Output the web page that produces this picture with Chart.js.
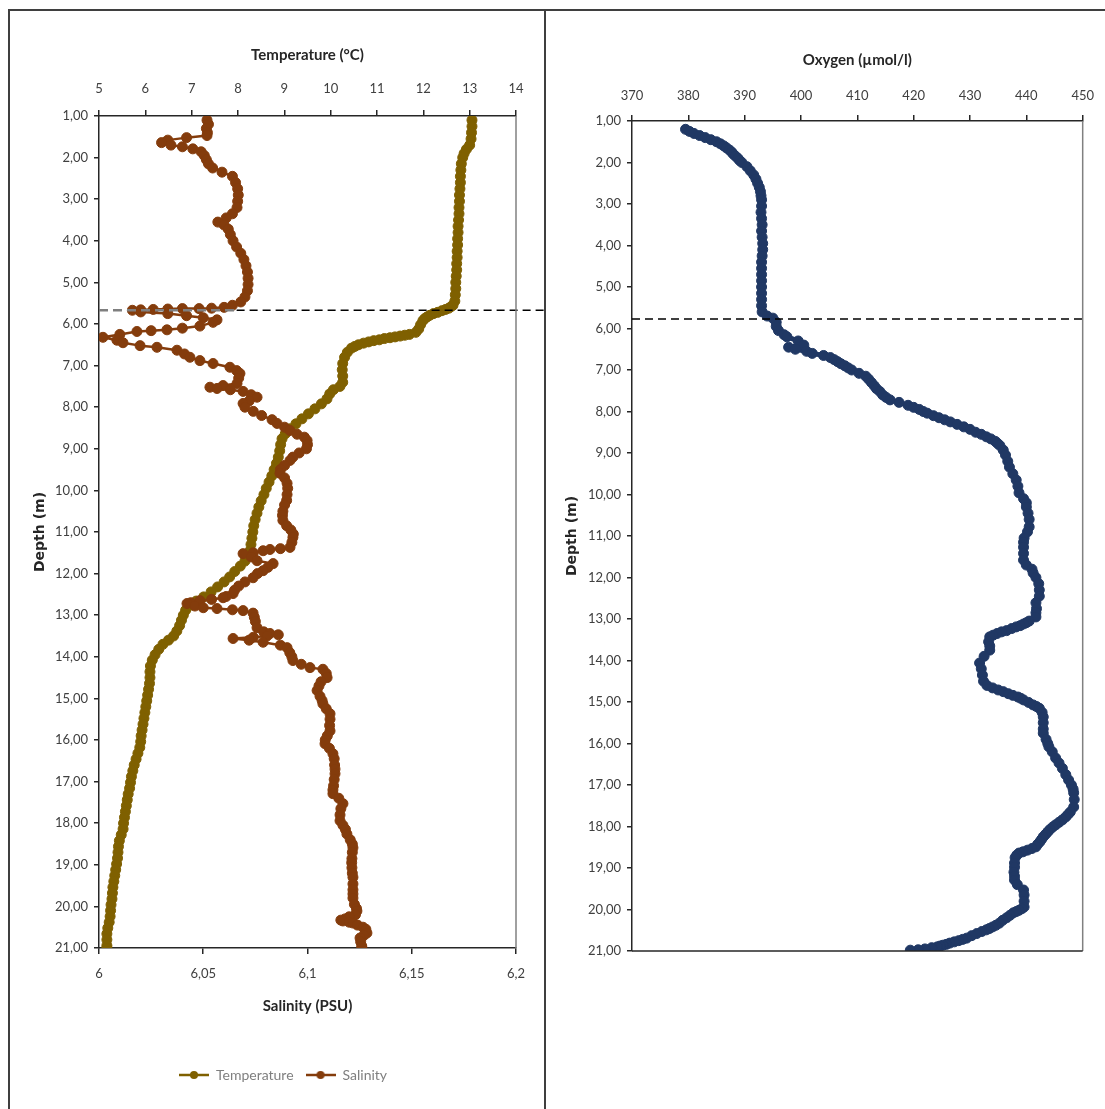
<!DOCTYPE html>
<html>
<head>
<meta charset="utf-8">
<script src="https://cdn.jsdelivr.net/npm/chart.js@4.4.1/dist/chart.umd.min.js"></script>
<style>
  body { margin: 0; background: #fff; width: 1105px; height: 1109px; position: relative; overflow: hidden; }
  #frame { position: absolute; left: 8px; top: 9px; width: 1097px; height: 1100px; border-top: 2px solid #3f3f3f; border-left: 2px solid #3f3f3f; box-sizing: border-box; }
  #divider { position: absolute; left: 544px; top: 9px; width: 2px; height: 1100px; background: #3f3f3f; }
  .panel { position: absolute; top: 11px; height: 1098px; }
  #left { left: 10px; width: 534px; }
  #right { left: 547px; width: 558px; }
</style>
</head>
<body>
<div id="frame"></div>
<div id="divider"></div>
<div class="panel" id="left"><canvas id="tsChart"></canvas></div>
<div class="panel" id="right"><canvas id="oxChart"></canvas></div>
<script>
// --- Données : [profondeur (m), valeur] ---

const temperature = [
  [1.10,13.05],[1.25,13.05],[1.40,13.04],[1.55,13.03],[1.70,13.00],[1.80,12.93],[1.90,12.88],[2.00,12.85],
  [2.15,12.82],[2.30,12.81],[2.45,12.80],[2.60,12.80],[2.75,12.79],[2.90,12.78],[3.05,12.78],[3.20,12.77],
  [3.35,12.77],[3.50,12.76],[3.65,12.75],[3.80,12.75],[3.95,12.74],[4.10,12.74],[4.25,12.73],[4.40,12.73],
  [4.55,12.72],[4.70,12.72],[4.85,12.71],[5.00,12.70],[5.15,12.70],[5.30,12.69],[5.45,12.68],[5.55,12.64],
  [5.58,12.60],[5.62,12.55],[5.65,12.48],[5.68,12.40],[5.72,12.31],[5.75,12.22],[5.79,12.14],[5.83,12.08],
  [5.87,12.03],[5.92,11.99],[6.02,11.94],[6.12,11.90],[6.20,11.84],[6.25,11.70],[6.27,11.60],[6.29,11.50],
  [6.31,11.39],[6.33,11.28],[6.35,11.16],[6.38,11.05],[6.40,10.93],[6.43,10.82],[6.46,10.71],[6.50,10.60],
  [6.54,10.52],[6.58,10.45],[6.68,10.36],[6.80,10.30],[6.95,10.26],[7.10,10.25],[7.25,10.26],[7.40,10.26],
  [7.50,10.20],[7.58,10.06],[7.68,9.98],[7.80,9.92],[7.92,9.80],[8.04,9.66],[8.16,9.52],[8.28,9.38],
  [8.40,9.25],[8.52,9.12],[8.64,9.02],[8.76,8.95],[8.90,8.92],[9.05,8.90],[9.20,8.87],[9.35,8.83],
  [9.50,8.78],[9.65,8.73],[9.80,8.67],[9.95,8.61],[10.10,8.56],[10.25,8.50],[10.40,8.45],[10.55,8.41],
  [10.70,8.37],[10.85,8.34],[11.00,8.32],[11.15,8.30],[11.30,8.28],[11.45,8.26],[11.58,8.22],[11.70,8.15],
  [11.82,8.05],[11.95,7.93],[12.08,7.82],[12.20,7.70],[12.32,7.56],[12.44,7.42],[12.56,7.26],[12.66,7.10],
  [12.76,6.97],[12.88,6.87],[13.00,6.82],[13.12,6.78],[13.25,6.74],[13.38,6.68],[13.50,6.61],[13.60,6.50],
  [13.70,6.38],[13.82,6.29],[13.95,6.21],[14.08,6.15],[14.22,6.11],[14.36,6.10],[14.50,6.10],[14.64,6.09],
  [14.78,6.07],[14.92,6.05],[15.06,6.03],[15.20,6.01],[15.34,5.99],[15.48,5.97],[15.62,5.95],[15.76,5.93],
  [15.90,5.91],[16.04,5.90],[16.18,5.88],[16.32,5.84],[16.46,5.80],[16.60,5.76],[16.74,5.73],[16.88,5.70],
  [17.02,5.68],[17.16,5.66],[17.30,5.63],[17.44,5.61],[17.58,5.59],[17.72,5.57],[17.86,5.55],[18.00,5.53],
  [18.14,5.52],[18.28,5.48],[18.42,5.44],[18.56,5.42],[18.70,5.41],[18.84,5.40],[18.98,5.38],[19.12,5.36],
  [19.26,5.34],[19.40,5.32],[19.54,5.30],[19.68,5.29],[19.82,5.28],[19.96,5.26],[20.10,5.25],[20.24,5.24],
  [20.38,5.22],[20.52,5.19],[20.66,5.17],[20.80,5.17],[20.94,5.17],[21.00,5.17]
];

const salinity = [
  [1.10,6.0518],[1.20,6.0525],[1.30,6.0515],[1.40,6.0520],[1.47,6.0518],[1.52,6.0420],[1.58,6.0330],[1.64,6.0300],
  [1.70,6.0345],[1.74,6.0400],[1.79,6.0450],[1.86,6.0490],[1.95,6.0505],[2.05,6.0515],[2.15,6.0525],[2.25,6.0545],
  [2.35,6.0590],[2.45,6.0640],[2.60,6.0655],[2.75,6.0665],[2.90,6.0668],[3.05,6.0665],[3.20,6.0662],[3.35,6.0640],
  [3.45,6.0610],[3.55,6.0570],[3.62,6.0600],[3.72,6.0620],[3.85,6.0630],[4.00,6.0643],[4.15,6.0660],[4.30,6.0680],
  [4.45,6.0695],[4.60,6.0705],[4.75,6.0712],[4.90,6.0715],[5.05,6.0715],[5.20,6.0712],[5.35,6.0700],[5.47,6.0680],
  [5.55,6.0640],[5.60,6.0600],[5.62,6.0540],[5.63,6.0480],[5.63,6.0400],[5.64,6.0330],[5.65,6.0260],[5.66,6.0200],
  [5.67,6.0160],[5.71,6.0200],[5.75,6.0330],[5.80,6.0420],[5.85,6.0500],[5.90,6.0566],[5.96,6.0547],[6.05,6.0484],
  [6.10,6.0400],[6.14,6.0326],[6.16,6.0250],[6.18,6.0182],[6.25,6.0100],[6.32,6.0019],[6.39,6.0086],[6.45,6.0115],
  [6.52,6.0197],[6.56,6.0278],[6.63,6.0374],[6.72,6.0410],[6.80,6.0436],[6.88,6.0484],[6.95,6.0547],[7.04,6.0628],
  [7.12,6.0660],[7.19,6.0676],[7.30,6.0670],[7.43,6.0662],[7.48,6.0595],[7.52,6.0532],[7.55,6.0566],[7.58,6.0630],
  [7.62,6.0691],[7.70,6.0730],[7.76,6.0758],[7.85,6.0720],[7.91,6.0691],[8.00,6.0700],[8.10,6.0740],[8.20,6.0780],
  [8.30,6.0830],[8.39,6.0854],[8.48,6.0890],[8.56,6.0916],[8.65,6.0950],[8.72,6.0985],[8.80,6.0998],[8.90,6.1000],
  [9.00,6.0995],[9.10,6.0960],[9.20,6.0930],[9.28,6.0916],[9.40,6.0890],[9.50,6.0870],[9.59,6.0868],[9.70,6.0890],
  [9.83,6.0902],[9.95,6.0905],[10.10,6.0902],[10.24,6.0900],[10.35,6.0890],[10.50,6.0882],[10.60,6.0880],[10.72,6.0882],
  [10.85,6.0900],[10.95,6.0920],[11.05,6.0932],[11.13,6.0930],[11.25,6.0925],[11.37,6.0916],[11.40,6.0870],[11.42,6.0820],
  [11.45,6.0787],[11.50,6.0740],[11.52,6.0691],[11.60,6.0730],[11.69,6.0758],[11.76,6.0835],[11.85,6.0810],[11.93,6.0787],
  [12.00,6.0760],[12.10,6.0739],[12.20,6.0700],[12.30,6.0670],[12.40,6.0650],[12.48,6.0643],[12.55,6.0610],[12.58,6.0595],
  [12.62,6.0540],[12.65,6.0484],[12.70,6.0440],[12.72,6.0422],[12.78,6.0460],[12.82,6.0500],[12.84,6.0566],[12.87,6.0640],
  [12.89,6.0691],[12.95,6.0739],[13.05,6.0745],[13.15,6.0750],[13.30,6.0758],[13.40,6.0790],[13.44,6.0820],[13.47,6.0860],
  [13.50,6.0806],[13.53,6.0740],[13.56,6.0643],[13.60,6.0720],[13.65,6.0787],[13.72,6.0870],[13.78,6.0902],[13.90,6.0915],
  [14.00,6.0925],[14.09,6.0930],[14.18,6.0970],[14.26,6.1012],[14.30,6.1074],[14.40,6.1090],[14.50,6.1094],[14.60,6.1065],
  [14.70,6.1055],[14.81,6.1046],[14.95,6.1060],[15.05,6.1070],[15.13,6.1074],[15.25,6.1090],[15.37,6.1108],[15.50,6.1108],
  [15.65,6.1106],[15.78,6.1108],[15.90,6.1095],[16.00,6.1085],[16.09,6.1084],[16.20,6.1105],[16.33,6.1122],[16.45,6.1128],
  [16.60,6.1130],[16.70,6.1132],[16.81,6.1132],[16.95,6.1128],[17.10,6.1125],[17.20,6.1122],[17.29,6.1122],[17.40,6.1150],
  [17.53,6.1170],[17.65,6.1160],[17.80,6.1156],[17.94,6.1156],[18.05,6.1170],[18.15,6.1182],[18.26,6.1189],[18.40,6.1205],
  [18.50,6.1215],[18.59,6.1218],[18.70,6.1215],[18.85,6.1213],[18.95,6.1212],[19.07,6.1213],[19.20,6.1215],[19.30,6.1218],
  [19.46,6.1218],[19.60,6.1218],[19.70,6.1218],[19.80,6.1218],[19.95,6.1225],[20.05,6.1235],[20.11,6.1237],[20.20,6.1230],
  [20.25,6.1200],[20.30,6.1180],[20.33,6.1160],[20.35,6.1170],[20.38,6.1200],[20.40,6.1218],[20.45,6.1240],[20.50,6.1266],
  [20.55,6.1280],[20.64,6.1285],[20.70,6.1270],[20.76,6.1252],[20.85,6.1255],[20.95,6.1260],[21.00,6.1261]
];

const oxygen = [
  [1.20,379.5],[1.25,380.2],[1.30,381.0],[1.35,382.0],[1.40,383.0],[1.45,384.0],[1.50,385.0],[1.55,385.7],
  [1.60,386.3],[1.65,386.8],[1.70,387.3],[1.75,387.7],[1.80,388.0],[1.85,388.4],[1.90,388.8],[1.95,389.1],
  [2.00,389.5],[2.10,390.4],[2.20,391.0],[2.30,391.6],[2.40,392.0],[2.50,392.3],[2.60,392.6],[2.70,392.8],
  [2.80,392.9],[2.90,393.0],[3.05,393.0],[3.20,392.9],[3.35,393.0],[3.50,393.1],[3.65,393.0],[3.80,393.1],
  [3.95,393.2],[4.10,393.2],[4.25,393.1],[4.40,393.0],[4.55,393.0],[4.70,393.0],[4.85,393.0],[5.00,393.0],
  [5.15,393.0],[5.30,393.0],[5.45,393.0],[5.60,393.1],[5.70,394.0],[5.75,395.0],[5.85,395.6],[5.95,395.6],
  [6.05,396.0],[6.15,397.0],[6.20,397.5],[6.30,399.5],[6.40,400.5],[6.45,397.8],[6.50,399.0],[6.55,401.0],
  [6.60,402.0],[6.65,404.0],[6.70,405.2],[6.75,405.9],[6.80,406.5],[6.85,407.1],[6.90,407.8],[6.95,408.4],
  [7.00,409.0],[7.08,410.3],[7.15,411.5],[7.22,412.0],[7.30,412.5],[7.38,413.0],[7.45,413.4],[7.52,414.0],
  [7.60,414.5],[7.66,415.1],[7.72,415.8],[7.78,417.4],[7.85,419.0],[7.90,420.0],[7.95,421.0],[8.00,421.7],
  [8.04,422.4],[8.10,423.5],[8.15,424.5],[8.20,425.5],[8.25,426.5],[8.31,427.7],[8.37,428.9],[8.43,430.0],
  [8.50,431.0],[8.55,432.0],[8.61,432.9],[8.66,433.7],[8.72,434.5],[8.77,434.9],[8.82,435.3],[8.93,435.9],
  [9.05,436.3],[9.20,436.7],[9.34,437.0],[9.50,437.6],[9.65,438.2],[9.80,438.5],[9.96,438.7],[10.10,439.5],
  [10.20,440.0],[10.30,440.0],[10.45,440.3],[10.60,440.5],[10.78,440.5],[10.90,440.2],[11.05,439.6],[11.15,439.5],
  [11.27,439.5],[11.42,439.5],[11.58,439.5],[11.70,440.0],[11.80,441.0],[11.89,441.2],[12.00,441.7],[12.15,442.2],
  [12.30,442.3],[12.45,442.3],[12.61,441.7],[12.75,441.8],[12.85,441.7],[12.95,441.7],[13.05,440.5],[13.09,440.0],
  [13.12,439.5],[13.16,438.9],[13.19,438.2],[13.23,437.4],[13.28,436.5],[13.31,435.6],[13.35,434.8],[13.39,434.1],
  [13.43,433.5],[13.55,433.3],[13.65,433.5],[13.75,433.5],[13.90,432.5],[14.06,431.7],[14.20,432.0],[14.35,432.2],
  [14.50,432.4],[14.60,433.0],[14.66,434.0],[14.71,435.0],[14.75,435.9],[14.80,436.8],[14.84,437.6],[14.88,438.5],
  [14.91,439.0],[14.95,439.5],[15.01,440.4],[15.07,441.2],[15.11,441.8],[15.15,442.3],[15.25,442.8],[15.36,443.0],
  [15.50,443.0],[15.65,443.0],[15.75,443.0],[15.90,443.5],[16.00,443.8],[16.08,444.0],[16.20,444.6],[16.35,445.2],
  [16.47,445.8],[16.60,446.4],[16.75,447.0],[16.88,447.5],[17.00,448.0],[17.10,448.3],[17.19,448.4],[17.35,448.5],
  [17.53,448.4],[17.65,447.8],[17.71,447.4],[17.77,447.0],[17.84,446.4],[17.90,445.8],[17.96,445.2],[18.01,444.7],
  [18.07,444.2],[18.13,443.8],[18.19,443.4],[18.25,443.0],[18.31,442.7],[18.37,442.4],[18.43,442.0],[18.49,441.7],
  [18.53,441.0],[18.57,440.2],[18.61,439.4],[18.64,438.7],[18.69,438.3],[18.75,438.0],[18.88,437.9],[18.98,437.9],
  [19.10,437.8],[19.20,437.9],[19.29,437.9],[19.40,438.4],[19.53,439.5],[19.65,439.6],[19.80,439.6],[19.94,439.6],
  [19.98,439.2],[20.02,438.7],[20.05,438.2],[20.08,437.7],[20.14,437.1],[20.20,436.5],[20.26,435.8],[20.33,435.2],
  [20.38,434.6],[20.42,434.0],[20.46,433.4],[20.49,432.9],[20.53,432.1],[20.58,431.2],[20.63,430.3],[20.69,429.4],
  [20.72,428.7],[20.75,428.0],[20.78,427.2],[20.81,426.4],[20.84,425.8],[20.86,425.2],[20.88,424.7],[20.90,424.2],
  [20.92,423.2],[20.95,422.0],[20.97,420.8],[20.98,419.4]
];

// profondeur de la thermocline (ligne pointillée) pour chaque graphique
const thermoclineTS = 5.67;
const thermoclineO2 = 5.77;

// --- Styles ---
const FONT = "Lato, 'Open Sans', sans-serif";
Chart.defaults.font.family = FONT;
Chart.defaults.color = '#404040';
Chart.defaults.animation = false;

const COLORS = { temperature: '#7f6000', salinity: '#843c0c', oxygen: '#203864' };
const AXIS = '#262626';

const depthLabel = v => Number(v).toFixed(2).replace('.', ',');
const commaLabel = v => String(+Number(v).toFixed(2)).replace('.', ',');
const toPoints = rows => rows.map(([d, v]) => ({ x: v, y: d }));

// Petit symbole ligne + marqueur pour la légende (style Excel)
function legendSymbol(color) {
  const c = document.createElement('canvas');
  c.width = 30; c.height = 10;
  const g = c.getContext('2d');
  g.strokeStyle = color; g.lineWidth = 2.5;
  g.beginPath(); g.moveTo(0, 5); g.lineTo(30, 5); g.stroke();
  g.fillStyle = color;
  g.beginPath(); g.arc(15, 5, 4, 0, Math.PI * 2); g.fill();
  return c;
}

// Bordure de la zone de tracé (côté droit gris, bas optionnel)
const plotBorder = {
  id: 'plotBorder',
  afterDraw(chart, args, opts) {
    const { ctx, chartArea: a } = chart;
    ctx.save();
    ctx.lineWidth = 1.5;
    ctx.strokeStyle = '#808080';
    ctx.beginPath(); ctx.moveTo(a.right, a.top); ctx.lineTo(a.right, a.bottom); ctx.stroke();
    if (opts.bottom) {
      ctx.strokeStyle = AXIS;
      ctx.beginPath(); ctx.moveTo(a.left, a.bottom); ctx.lineTo(a.right, a.bottom); ctx.stroke();
    }
    ctx.restore();
  }
};

// Ligne pointillée horizontale à la profondeur de la thermocline
const thermocline = {
  id: 'thermocline',
  afterDatasetsDraw(chart, args, opts) {
    if (opts.depth == null) return;
    const { ctx, chartArea: a, scales: { y } } = chart;
    const py = y.getPixelForValue(opts.depth);
    ctx.save();
    opts.parts.forEach(p => {
      const x0 = a.left + p.from * (a.right - a.left);
      const x1 = p.to === 'edge' ? chart.width : a.left + p.to * (a.right - a.left);
      ctx.setLineDash(p.dash);
      ctx.lineWidth = p.width;
      ctx.strokeStyle = p.color;
      ctx.beginPath(); ctx.moveTo(x0, py); ctx.lineTo(x1, py); ctx.stroke();
    });
    ctx.restore();
  }
};

// Décale la légende horizontalement (elle n'est pas centrée dans l'original)
const legendShift = {
  id: 'legendShift',
  afterLayout(chart, args, opts) {
    if (chart.legend && opts.dx) {
      chart.legend.left += opts.dx;
      chart.legend.right += opts.dx;
    }
  }
};

function depthAxis(width, titlePad) {
  return {
    type: 'linear', reverse: true, min: 1, max: 21,
    ticks: { stepSize: 1, callback: depthLabel, padding: 6, font: { size: 13 }, color: '#404040' },
    grid: { drawOnChartArea: false, tickLength: 5, color: AXIS, lineWidth: 1.5 },
    border: { color: AXIS, width: 1.5 },
    title: { display: true, text: 'Depth (m)', color: AXIS, padding: { top: titlePad },
             font: { family: "'DejaVu Sans', sans-serif", size: 14, weight: 'bold' } },
    afterFit: s => { s.width = width; }
  };
}

function valueAxis(position, min, max, step, title, height, tickPad, titlePad) {
  return {
    type: 'linear', position, min, max,
    ticks: { stepSize: step, callback: commaLabel, padding: tickPad, font: { size: 13 }, color: '#404040' },
    grid: { drawOnChartArea: false, tickLength: 6, color: AXIS, lineWidth: 1.5 },
    border: { color: AXIS, width: 1.5 },
    title: { display: true, text: title, color: AXIS, padding: titlePad, font: { size: 15, weight: 'bold' } },
    afterFit: s => { s.height = height; }
  };
}

function series(label, rows, color, xAxisID, order, lineWidth) {
  return {
    label, data: toPoints(rows), xAxisID, yAxisID: 'y', order,
    showLine: true, borderColor: color, backgroundColor: color, borderWidth: lineWidth,
    borderJoinStyle: 'round', borderCapStyle: 'round',
    pointRadius: 5, pointBorderWidth: 1, pointBorderColor: color, pointBackgroundColor: color,
    pointHoverRadius: 5
  };
}

// --- Température / salinité ---
const symbols = [legendSymbol(COLORS.temperature), legendSymbol(COLORS.salinity)];

new Chart(document.getElementById('tsChart'), {
  type: 'scatter',
  data: {
    datasets: [
      series('Temperature', temperature, COLORS.temperature, 'xT', 1, 5),
      series('Salinity', salinity, COLORS.salinity, 'xS', 0, 2.5)
    ]
  },
  options: {
    responsive: true, maintainAspectRatio: false,
    layout: { padding: { left: 0, right: 28, top: 0, bottom: 17 } },
    scales: {
      xT: valueAxis('top', 5, 14, 1, 'Temperature (°C)', 105, 13, { top: 35 }),
      xS: valueAxis('bottom', 6, 6.2, 0.05, 'Salinity (PSU)', 108, 12, { bottom: 41 }),
      y: depthAxis(89, 22)
    },
    plugins: {
      tooltip: { enabled: false },
      legend: {
        position: 'bottom',
        labels: {
          usePointStyle: true, pointStyleWidth: 30, padding: 12,
          font: { size: 14 }, color: '#7f7f7f',
          generateLabels: chart => chart.data.datasets.map((ds, i) => ({
            text: ds.label, datasetIndex: i, pointStyle: symbols[i],
            fillStyle: 'transparent', strokeStyle: 'transparent', lineWidth: 0,
            fontColor: '#7f7f7f', hidden: false
          }))
        }
      },
      legendShift: { dx: 20 },
      plotBorder: { bottom: false },
      thermocline: {
        depth: thermoclineTS,
        parts: [
          { from: 0, to: 0.33, color: '#7f7f7f', width: 2.5, dash: [9, 5] },
          { from: 0.33, to: 'edge', color: '#000', width: 1.5, dash: [8, 5] }
        ]
      }
    }
  },
  plugins: [plotBorder, thermocline, legendShift]
});

// --- Oxygène ---
new Chart(document.getElementById('oxChart'), {
  type: 'scatter',
  data: { datasets: [series('Oxygen', oxygen, COLORS.oxygen, 'xO', 0, 5)] },
  options: {
    responsive: true, maintainAspectRatio: false,
    layout: { padding: { left: 0, right: 18, top: 0, bottom: 158 } },
    scales: {
      xO: valueAxis('top', 370, 450, 10, 'Oxygen (µmol/l)', 110, 11, { top: 40 }),
      y: depthAxis(85, 17)
    },
    plugins: {
      tooltip: { enabled: false },
      legend: { display: false },
      plotBorder: { bottom: true },
      thermocline: {
        depth: thermoclineO2,
        parts: [{ from: 0, to: 1, color: '#000', width: 1.5, dash: [8, 5] }]
      }
    }
  },
  plugins: [plotBorder, thermocline]
});
</script>
</body>
</html>
